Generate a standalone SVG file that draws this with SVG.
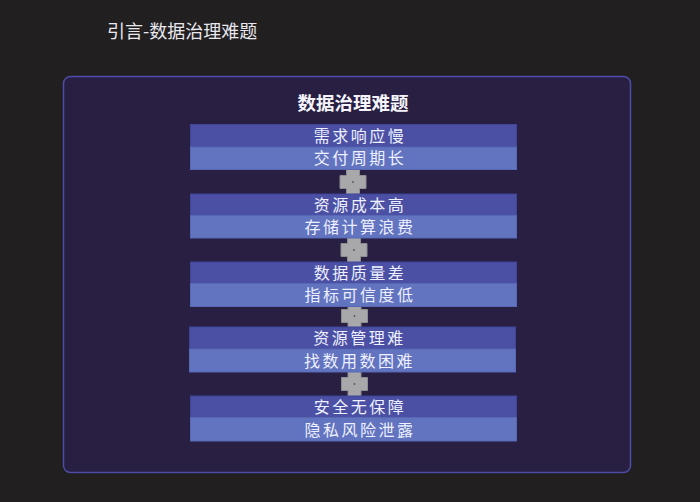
<svg xmlns="http://www.w3.org/2000/svg" width="700" height="502" viewBox="0 0 700 502">
<defs>
<style>
.cjk{font-family:"Noto Sans CJK SC","Noto Sans",sans-serif;}
.row{font-size:16px;fill:#eef0ff;text-anchor:middle;letter-spacing:2.5px;}
.top{fill:#4b50a4;stroke:#3f4496;stroke-width:1;}
.bot{fill:#6274bf;stroke:#5668b3;stroke-width:1;}
.plus{fill:#a8a8aa;stroke:#8e8e92;stroke-width:1;}
</style>
<path id="plusShape" d="M-6.5,-13 H6.5 V-6.5 H13 V6.5 H6.5 V13 H-6.5 V6.5 H-13 V-6.5 H-6.5 Z"/>
</defs>
<rect x="0" y="0" width="700" height="502" fill="#221f20"/>
<text class="cjk" x="107" y="38" font-size="18" fill="#e8e8ee">引言-数据治理难题</text>
<g id="container">
<rect x="63.5" y="76.5" width="567" height="396" rx="7" fill="#281f43" stroke="#4d4ca6" stroke-width="1.5"/>
<text class="cjk" x="353" y="110" font-size="18.5" font-weight="bold" fill="#f4f4fa" text-anchor="middle">数据治理难题</text>
</g>
<g id="connectors">
<use href="#plusShape" class="plus" x="353" y="182"/>
<use href="#plusShape" class="plus" x="354" y="250"/>
<use href="#plusShape" class="plus" x="354.5" y="316"/>
<use href="#plusShape" class="plus" x="354.5" y="384"/>
<circle cx="353" cy="182" r="0.9" fill="#555"/>
<circle cx="354" cy="250" r="0.9" fill="#555"/>
<circle cx="354.5" cy="316" r="0.9" fill="#555"/>
<circle cx="354.5" cy="384" r="0.9" fill="#555"/>
</g>
<g id="node1">
<rect class="top" x="190.5" y="124.5" width="326" height="22.5"/>
<rect class="bot" x="190.5" y="147" width="326" height="22.5"/>
<text class="cjk row" x="360" y="141.5">需求响应慢</text>
<text class="cjk row" x="360" y="164">交付周期长</text>
</g>
<g id="node2">
<rect class="top" x="190.5" y="194" width="326" height="21.5"/>
<rect class="bot" x="190.5" y="215.5" width="326" height="22.5"/>
<text class="cjk row" x="360" y="210.5">资源成本高</text>
<text class="cjk row" x="360" y="232.5">存储计算浪费</text>
</g>
<g id="node3">
<rect class="top" x="190.5" y="262" width="326" height="21.5"/>
<rect class="bot" x="190.5" y="283.5" width="326" height="23"/>
<text class="cjk row" x="360" y="278.5">数据质量差</text>
<text class="cjk row" x="360" y="301">指标可信度低</text>
</g>
<g id="node4">
<rect class="top" x="189.5" y="327" width="326" height="22"/>
<rect class="bot" x="189.5" y="349" width="326" height="23"/>
<text class="cjk row" x="359.5" y="344">资源管理难</text>
<text class="cjk row" x="359.5" y="366.5">找数用数困难</text>
</g>
<g id="node5">
<rect class="top" x="190.5" y="396" width="326" height="21.5"/>
<rect class="bot" x="190.5" y="417.5" width="326" height="23.5"/>
<text class="cjk row" x="360" y="412.5">安全无保障</text>
<text class="cjk row" x="360" y="435.5">隐私风险泄露</text>
</g>
</svg>
